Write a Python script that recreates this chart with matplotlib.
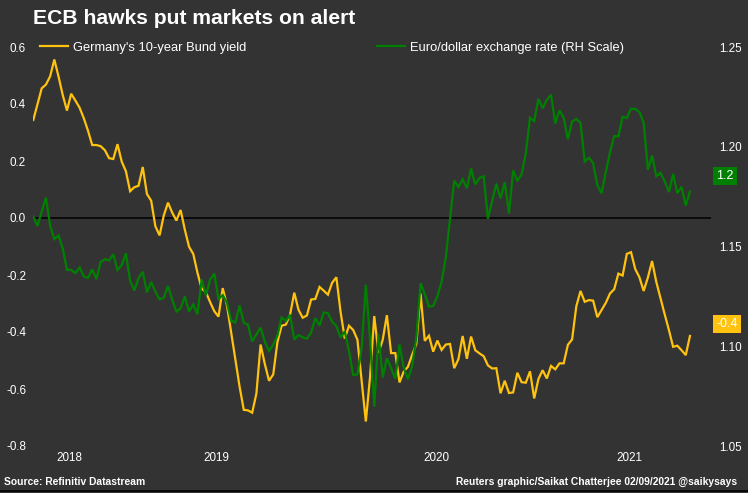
import matplotlib
matplotlib.use("Agg")
import matplotlib.pyplot as plt
from matplotlib.lines import Line2D

plt.rcParams['font.family'] = ['Liberation Sans', 'DejaVu Sans']
plt.rcParams['axes.unicode_minus'] = False

title = "ECB hawks put markets on alert"
source_text = "Source: Refinitiv Datastream"
credit_text = "Reuters graphic/Saikat Chatterjee 02/09/2021 @saikysays"
bund_label = "Germany's 10-year Bund yield"
eur_label = "Euro/dollar exchange rate (RH Scale)"

year_labels = ["2018", "2019", "2020", "2021"]
year_pos = [8.5, 43.5, 95.8, 141.6]

bund_yield = [
    0.344, 0.399, 0.455, 0.468, 0.497, 0.556, 0.496, 0.431, 0.377, 0.436,
    0.412, 0.387, 0.350, 0.306, 0.256, 0.256, 0.252, 0.238, 0.210, 0.207,
    0.259, 0.198, 0.164, 0.094, 0.108, 0.113, 0.179, 0.084, 0.061, -0.029,
    -0.061, 0.009, 0.054, 0.019, -0.009, 0.028, -0.041, -0.101, -0.126, -0.192,
    -0.248, -0.260, -0.295, -0.327, -0.346, -0.246, -0.306, -0.401, -0.496, -0.591,
    -0.673, -0.675, -0.683, -0.616, -0.444, -0.512, -0.571, -0.549, -0.435, -0.378,
    -0.374, -0.339, -0.262, -0.322, -0.350, -0.342, -0.286, -0.284, -0.242, -0.255,
    -0.269, -0.227, -0.208, -0.330, -0.423, -0.378, -0.393, -0.427, -0.571, -0.714,
    -0.558, -0.344, -0.473, -0.428, -0.341, -0.474, -0.474, -0.577, -0.539, -0.522,
    -0.480, -0.442, -0.265, -0.431, -0.413, -0.469, -0.430, -0.463, -0.444, -0.442,
    -0.527, -0.495, -0.414, -0.494, -0.416, -0.464, -0.475, -0.485, -0.517, -0.528,
    -0.527, -0.615, -0.571, -0.614, -0.612, -0.543, -0.576, -0.578, -0.538, -0.633,
    -0.565, -0.534, -0.563, -0.519, -0.531, -0.510, -0.510, -0.445, -0.426, -0.310,
    -0.256, -0.294, -0.288, -0.290, -0.348, -0.323, -0.298, -0.265, -0.250, -0.195,
    -0.202, -0.126, -0.120, -0.179, -0.208, -0.256, -0.209, -0.151, -0.224, -0.281,
    -0.338, -0.393, -0.452, -0.448, -0.464, -0.481, -0.414,
]

eur_usd = [
    1.1649, 1.1603, 1.1675, 1.1745, 1.1604, 1.1537, 1.1555, 1.1490, 1.1383, 1.1383,
    1.1366, 1.1395, 1.1350, 1.1343, 1.1386, 1.1336, 1.1423, 1.1436, 1.1430, 1.1461,
    1.1382, 1.1407, 1.1466, 1.1328, 1.1279, 1.1341, 1.1374, 1.1270, 1.1322, 1.1274,
    1.1235, 1.1243, 1.1302, 1.1233, 1.1174, 1.1190, 1.1250, 1.1174, 1.1210, 1.1161,
    1.1335, 1.1255, 1.1334, 1.1364, 1.1236, 1.1256, 1.1219, 1.1128, 1.1119, 1.1204,
    1.1118, 1.1108, 1.1024, 1.1059, 1.1094, 1.1022, 1.0977, 1.1007, 1.1054, 1.1145,
    1.1126, 1.1158, 1.1033, 1.1056, 1.1045, 1.1038, 1.1069, 1.1141, 1.1104, 1.1170,
    1.1165, 1.1122, 1.1102, 1.1043, 1.1075, 1.0975, 1.0856, 1.0859, 1.0991, 1.1308,
    1.1033, 1.0697, 1.1059, 1.0844, 1.0940, 1.0891, 1.0837, 1.1008, 1.0893, 1.0835,
    1.0899, 1.1045, 1.1316, 1.1262, 1.1199, 1.1202, 1.1250, 1.1324, 1.1446, 1.1639,
    1.1830, 1.1798, 1.1837, 1.1792, 1.1891, 1.1811, 1.1844, 1.1852, 1.1639, 1.1727,
    1.1815, 1.1741, 1.1823, 1.1665, 1.1882, 1.1828, 1.1862, 1.1967, 1.2145, 1.2129,
    1.2240, 1.2193, 1.2235, 1.2261, 1.2117, 1.2182, 1.2146, 1.2038, 1.2127, 1.2139,
    1.2120, 1.1926, 1.1945, 1.1918, 1.1807, 1.1767, 1.1872, 1.1972, 1.2054, 1.2052,
    1.2150, 1.2144, 1.2191, 1.2189, 1.2174, 1.2120, 1.1885, 1.1956, 1.1852, 1.1869,
    1.1827, 1.1773, 1.1864, 1.1767, 1.1799, 1.1705, 1.1776,
]

left_ticks = [0.6, 0.4, 0.2, 0.0, -0.2, -0.4, -0.6, -0.8]
right_ticks = [1.25, 1.20, 1.15, 1.10, 1.05]

BG = '#333333'
YEL = '#FFC20E'
GRN = '#008000'
W, H = 748, 493

fig = plt.figure(figsize=(W / 100, H / 100), dpi=100, facecolor=BG)
ax_l, ax_r = 33 / W, 711 / W
ax_b = (H - 446) / H
ax_t = (H - 32.75) / H
ax = fig.add_axes([ax_l, ax_b, ax_r - ax_l, ax_t - ax_b])
ax.set_facecolor(BG)
ax2 = ax.twinx()

x = list(range(len(bund_yield)))
l1, = ax.plot(x, bund_yield, color=YEL, lw=1.6, solid_joinstyle='miter', zorder=3)
l2, = ax2.plot(x, eur_usd, color=GRN, lw=1.6, solid_joinstyle='miter', zorder=3)
ax.axhline(0, color='black', lw=1.1, zorder=2)

ax.set_xlim(-0.07, 161)
ax.set_ylim(-0.8, 0.65)
ax2.set_ylim(1.05, 1.05 + 1.45 / 7)

ax.set_yticks(left_ticks)
ax.set_yticklabels([f"{v:.1f}" for v in left_ticks])
ax2.set_yticks(right_ticks)
ax2.set_yticklabels([f"{v:.2f}" for v in right_ticks])
ax.set_xticks(year_pos)
ax.set_xticklabels(year_labels)

for a in (ax, ax2):
    for s in a.spines.values():
        s.set_visible(False)
    a.tick_params(length=0, colors='white', labelsize=8.4)
ax.tick_params(axis='y', pad=5)
ax2.tick_params(axis='y', pad=6)
ax.tick_params(axis='x', pad=4)

# last-value boxes
ax.annotate(f"{bund_yield[-1]:.1f}", xy=(x[-1], bund_yield[-1]), xytext=(19, 8.6),
            textcoords='offset points', ha='left', va='center', color='white',
            fontsize=9, bbox=dict(boxstyle='square,pad=0.25', fc=YEL, ec='none'))
ax2.annotate(f"{eur_usd[-1]:.1f}", xy=(x[-1], eur_usd[-1]), xytext=(19, 11.2),
             textcoords='offset points', ha='left', va='center', color='white',
             fontsize=9, bbox=dict(boxstyle='square,pad=0.25', fc=GRN, ec='none'))

# legends
leg1 = fig.legend(handles=[Line2D([], [], color=YEL, lw=1.6)], labels=[bund_label],
                  loc='center left', bbox_to_anchor=(40 / W, 1 - 48 / H),
                  frameon=False, borderpad=0, borderaxespad=0, handlelength=2.2,
                  handletextpad=0.35, fontsize=9.3, labelcolor='white')
leg2 = fig.legend(handles=[Line2D([], [], color=GRN, lw=1.6)], labels=[eur_label],
                  loc='center left', bbox_to_anchor=(377 / W, 1 - 48 / H),
                  frameon=False, borderpad=0, borderaxespad=0, handlelength=2.2,
                  handletextpad=0.35, fontsize=9.3, labelcolor='white')

fig.text(33 / W, 1 - 19 / H, title, ha='left', va='center', color='white',
         fontsize=15.2, fontweight='bold')
fig.text(4 / W, 1 - 482 / H, source_text, ha='left', va='center', color='white',
         fontsize=7.4, fontweight='bold')
fig.text(737 / W, 1 - 482 / H, credit_text, ha='right', va='center', color='white',
         fontsize=7.4, fontweight='bold')
fig.add_artist(Line2D([0, 1], [2.5 / H, 2.5 / H], transform=fig.transFigure,
                      color='black', lw=1.2))

fig.savefig('out.png', dpi=100, facecolor=BG)
